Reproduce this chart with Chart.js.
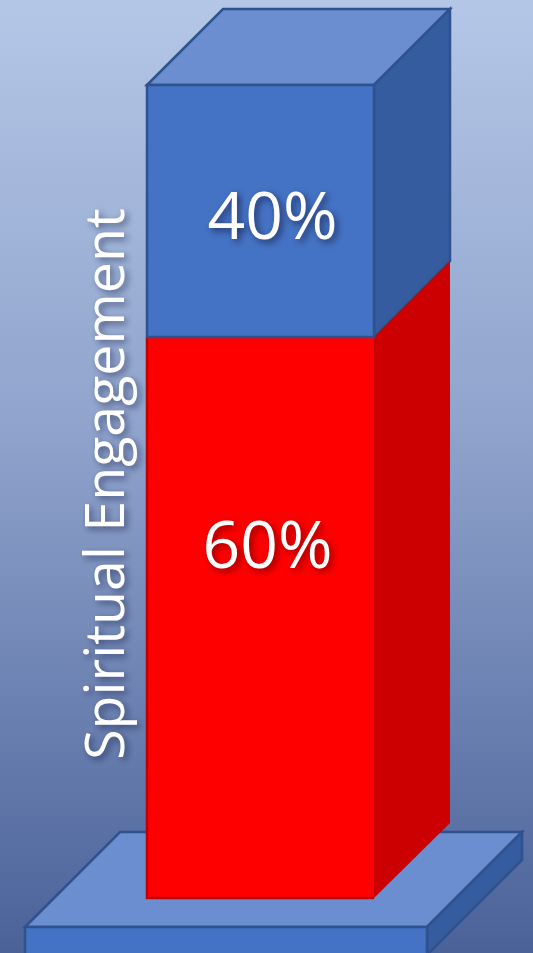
<!DOCTYPE html>
<html lang="en">
<head>
<meta charset="UTF-8">
<title>Spiritual Engagement</title>
<script src="https://cdn.jsdelivr.net/npm/chart.js@4/dist/chart.umd.min.js"></script>
<style>
  html, body { margin: 0; padding: 0; background: #fff; overflow: hidden; }
  #wrap { width: 533px; height: 953px; }
</style>
</head>
<body>
<div id="wrap"><canvas id="mychart" width="533" height="953"></canvas></div>
<script>
const categories = ['Spiritual Engagement'];
const lowerValues = [60];
const upperValues = [40];
const lowerLabels = ['60%'];
const upperLabels = ['40%'];
const axisTitle = 'Spiritual Engagement';

const DEPTH_X = 76, DEPTH_Y = 76;
const FONT = '"Open Sans", sans-serif';

function poly(ctx, pts, fill, stroke) {
    ctx.beginPath();
    pts.forEach((p, i) => i ? ctx.lineTo(p[0], p[1]) : ctx.moveTo(p[0], p[1]));
    ctx.closePath();
    ctx.fillStyle = fill;
    ctx.fill();
    if (stroke) {
        ctx.strokeStyle = stroke;
        ctx.lineWidth = 2.5;
        ctx.lineJoin = 'miter';
        ctx.stroke();
    }
}

function shadowText(ctx, text, x, y, font, shadow) {
    ctx.save();
    ctx.font = font;
    ctx.fillStyle = '#fff';
    ctx.textAlign = 'center';
    ctx.textBaseline = 'middle';
    ctx.shadowColor = shadow;
    ctx.shadowBlur = 7;
    ctx.shadowOffsetX = 3;
    ctx.shadowOffsetY = 3;
    ctx.fillText(text, x, y);
    ctx.restore();
}

// background + platform, then the 3d sides of the column
const box3d = {
    id: 'box3d',
    beforeDraw(chart) {
        const ctx = chart.ctx, w = chart.width, h = chart.height;
        const g = ctx.createLinearGradient(0, 0, 0, h);
        g.addColorStop(0, '#B4C7E7');
        g.addColorStop(0.45, '#8FA3CC');
        g.addColorStop(1, '#4B6299');
        ctx.fillStyle = g;
        ctx.fillRect(0, 0, w, h);

        const a = chart.chartArea;
        const left = a.left - 122, right = a.right + 53;
        const top = a.bottom + 29, d = 95;
        const edge = '#2F528F';
        poly(ctx, [[left, top], [left + d, top - d], [right + d, top - d], [right, top]], '#6A8ED0', edge);
        poly(ctx, [[right, top], [right + d, top - d], [right + d, top - d + 28], [right, top + 28]], '#355C9F', edge);
        poly(ctx, [[left, top], [right, top], [right, h + 4], [left, h + 4]], '#4472C4', edge);
    },
    beforeDatasetsDraw(chart) {
        const ctx = chart.ctx;
        const bar = chart.getDatasetMeta(0).data[0];
        const l = bar.x - bar.width / 2, r = bar.x + bar.width / 2;
        const yLow0 = chart.scales.yLow.getPixelForValue(0);
        const yMid = chart.scales.yLow.getPixelForValue(lowerValues[0]);
        const yTop = chart.scales.yUp.getPixelForValue(upperValues[0]);
        const edge = '#2F528F';
        poly(ctx, [[l, yTop], [l + DEPTH_X, yTop - DEPTH_Y], [r + DEPTH_X, yTop - DEPTH_Y], [r, yTop]], '#6A8ED0', edge);
        poly(ctx, [[r, yTop], [r + DEPTH_X, yTop - DEPTH_Y], [r + DEPTH_X, yMid - DEPTH_Y], [r, yMid]], '#355C9F', edge);
        poly(ctx, [[r, yMid], [r + DEPTH_X, yMid - DEPTH_Y], [r + DEPTH_X, yLow0 - DEPTH_Y + 1], [r, yLow0]], '#CC0000');
    },
    afterDatasetsDraw(chart) {
        const ctx = chart.ctx;
        const bar = chart.getDatasetMeta(0).data[0];
        const l = bar.x - bar.width / 2, r = bar.x + bar.width / 2;
        const yLow = chart.scales.yLow, yUp = chart.scales.yUp;
        // outlines
        ctx.save();
        ctx.lineWidth = 2.5;
        ctx.strokeStyle = '#C00000';
        ctx.beginPath();
        ctx.moveTo(l, yLow.getPixelForValue(lowerValues[0]));
        ctx.lineTo(l, yLow.getPixelForValue(0));
        ctx.lineTo(r, yLow.getPixelForValue(0));
        ctx.stroke();
        ctx.strokeStyle = '#2F528F';
        ctx.strokeRect(l, yUp.getPixelForValue(upperValues[0]), r - l,
            yUp.getPixelForValue(0) - yUp.getPixelForValue(upperValues[0]));
        ctx.restore();

        const font = '400 66px ' + FONT;
        shadowText(ctx, upperLabels[0], bar.x + 12, yUp.getPixelForValue(upperValues[0] * 0.465), font, 'rgba(20,30,70,0.75)');
        shadowText(ctx, lowerLabels[0], bar.x + 7, yLow.getPixelForValue(lowerValues[0] * 0.622), font, 'rgba(90,0,0,0.7)');

        ctx.save();
        ctx.translate(108, 484);
        ctx.rotate(-Math.PI / 2);
        shadowText(ctx, axisTitle, 0, 0, '400 55.5px ' + FONT, 'rgba(20,30,70,0.6)');
        ctx.restore();
    }
};

new Chart(document.getElementById('mychart').getContext('2d'), {
    type: 'bar',
    data: {
        labels: categories,
        datasets: [
            { label: 'Lower', data: lowerValues, yAxisID: 'yLow', backgroundColor: '#FF0000', borderWidth: 0 },
            { label: 'Upper', data: upperValues, yAxisID: 'yUp', backgroundColor: '#4472C4', borderWidth: 0 }
        ]
    },
    options: {
        responsive: false,
        animation: false,
        events: [],
        layout: { padding: { left: 147, right: 159, top: 85, bottom: 55 } },
        datasets: { bar: { barPercentage: 1, categoryPercentage: 1, grouped: false } },
        plugins: { legend: { display: false }, tooltip: { enabled: false } },
        scales: {
            x: { display: false },
            // the two parts of the column do not share one linear height in the picture
            yLow: { stack: 'col', stackWeight: 561, min: 0, max: 60, display: true, weight: 1,
                grid: { display: false, drawTicks: false }, border: { display: false }, ticks: { display: false } },
            yUp: { stack: 'col', stackWeight: 252, min: 0, max: 40, display: true, weight: 2,
                grid: { display: false, drawTicks: false }, border: { display: false }, ticks: { display: false } }
        }
    },
    plugins: [box3d]
});
</script>
</body>
</html>
